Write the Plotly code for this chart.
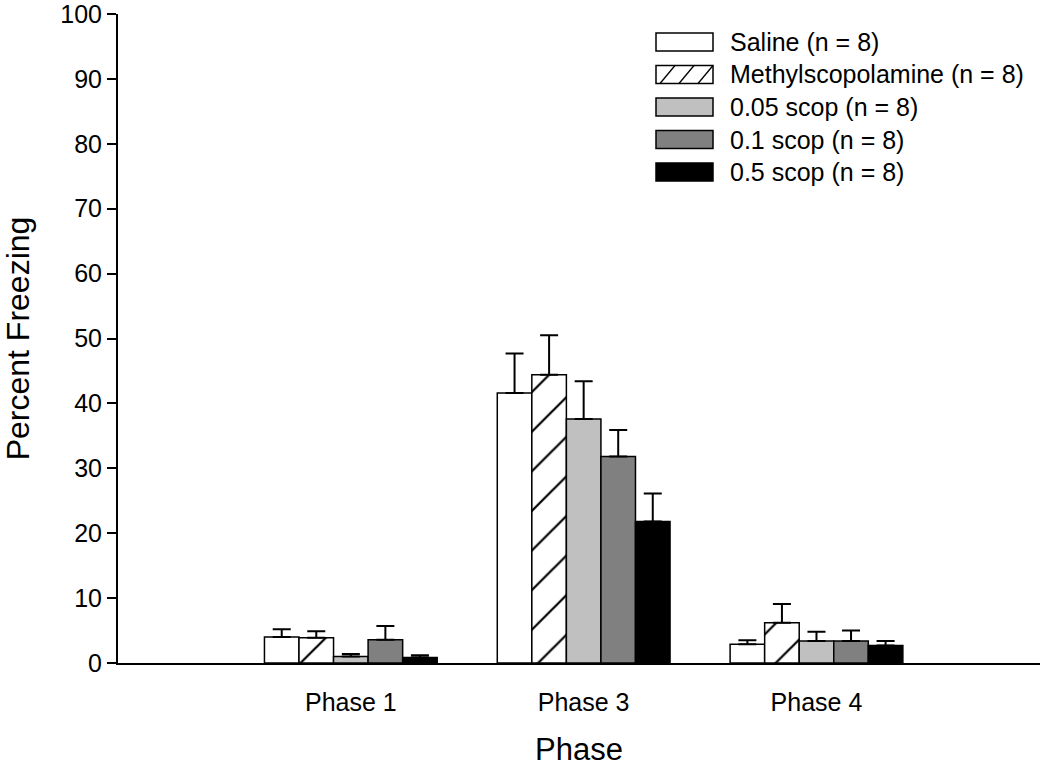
import plotly.graph_objects as go

phases = ["Phase 1", "Phase 3", "Phase 4"]
groups = ["Saline (n = 8)", "Methylscopolamine (n = 8)", "0.05 scop (n = 8)",
          "0.1 scop (n = 8)", "0.5 scop (n = 8)"]

saline = [4.0, 41.6, 2.9]
methyl = [3.9, 44.4, 6.2]
scop005 = [1.0, 37.6, 3.4]
scop01 = [3.6, 31.8, 3.4]
scop05 = [0.85, 21.8, 2.7]

saline_sem = [1.2, 6.1, 0.6]
methyl_sem = [1.0, 6.1, 2.9]
scop005_sem = [0.4, 5.8, 1.4]
scop01_sem = [2.1, 4.1, 1.6]
scop05_sem = [0.35, 4.3, 0.7]

yticks = [0, 10, 20, 30, 40, 50, 60, 70, 80, 90, 100]

values = [saline, methyl, scop005, scop01, scop05]
sems = [saline_sem, methyl_sem, scop005_sem, scop01_sem, scop05_sem]
fills = ["white", "white", "#c0c0c0", "#808080", "black"]
patterns = ["", "/", "", "", ""]

W, H = 1050, 767
ML, MR, MT, MB = 118, 10, 14, 104
PW, PH = W - ML - MR, H - MT - MB


def px_x(px):
    return (px - ML) / PW


def px_y(py):
    return (H - MB - py) / PH


fig = go.Figure()
for name, v, e, c, p in zip(groups, values, sems, fills, patterns):
    marker = dict(color=c, line=dict(color="black", width=1.5))
    if p:
        marker["pattern"] = dict(shape=p, fgcolor="black", fgopacity=1,
                                 bgcolor="white", size=28, solidity=0.08,
                                 fillmode="overlay")
    fig.add_trace(go.Bar(
        x=phases, y=v, name=name, marker=marker, showlegend=False,
        error_y=dict(type="data", array=e, arrayminus=[0] * len(e),
                     symmetric=False, color="black", thickness=2, width=9),
    ))

# custom legend (wide swatches like the original)
shapes = []
annotations = []
sw_l, sw_r, sw_h = 656, 713, 18
for i, (name, c, p) in enumerate(zip(groups, fills, patterns)):
    cy = 42 + i * 32.5
    shapes.append(dict(type="rect", xref="paper", yref="paper",
                       x0=px_x(sw_l), x1=px_x(sw_r),
                       y0=px_y(cy + sw_h / 2), y1=px_y(cy - sw_h / 2),
                       fillcolor=c, line=dict(color="black", width=1.5),
                       layer="above"))
    if p:
        for bx in (sw_l + 4, sw_l + 23, sw_l + 42):
            x0, y0 = bx, cy + sw_h / 2
            x1, y1 = min(bx + 15, sw_r), cy + sw_h / 2 - (min(bx + 15, sw_r) - bx) * sw_h / 15
            shapes.append(dict(type="line", xref="paper", yref="paper",
                               x0=px_x(x0), x1=px_x(x1),
                               y0=px_y(y0), y1=px_y(y1),
                               line=dict(color="black", width=1.3),
                               layer="above"))
    annotations.append(dict(text=name, xref="paper", yref="paper",
                            x=px_x(728), y=px_y(cy), xanchor="left",
                            yanchor="middle", showarrow=False,
                            font=dict(size=25)))

fig.update_layout(
    width=W, height=H,
    paper_bgcolor="white", plot_bgcolor="white",
    margin=dict(l=ML, r=MR, t=MT, b=MB, autoexpand=False),
    barmode="group", bargap=0.258, bargroupgap=0,
    font=dict(family="Liberation Sans, Arial, sans-serif", color="black", size=25),
    showlegend=False,
    shapes=shapes, annotations=annotations,
    xaxis=dict(
        range=[-1.0, 2.96], showline=True, linecolor="black", linewidth=2,
        ticks="outside", ticklen=16, tickcolor="rgba(0,0,0,0)",
        showgrid=False, zeroline=False, automargin=False,
        title=dict(text="Phase", font=dict(size=31), standoff=30),
        tickfont=dict(size=25),
    ),
    yaxis=dict(
        range=[0, 100], tickvals=yticks, showline=True, linecolor="black",
        linewidth=2, ticks="outside", ticklen=9, tickwidth=2, tickcolor="black",
        showgrid=False, zeroline=False, ticklabeloverflow="allow",
        automargin=False,
        title=dict(text="Percent Freezing", font=dict(size=32), standoff=34),
        tickfont=dict(size=25),
    ),
)

fig.write_html("out.html", config={"displayModeBar": False},
               post_script="document.body.style.margin='0px';")
